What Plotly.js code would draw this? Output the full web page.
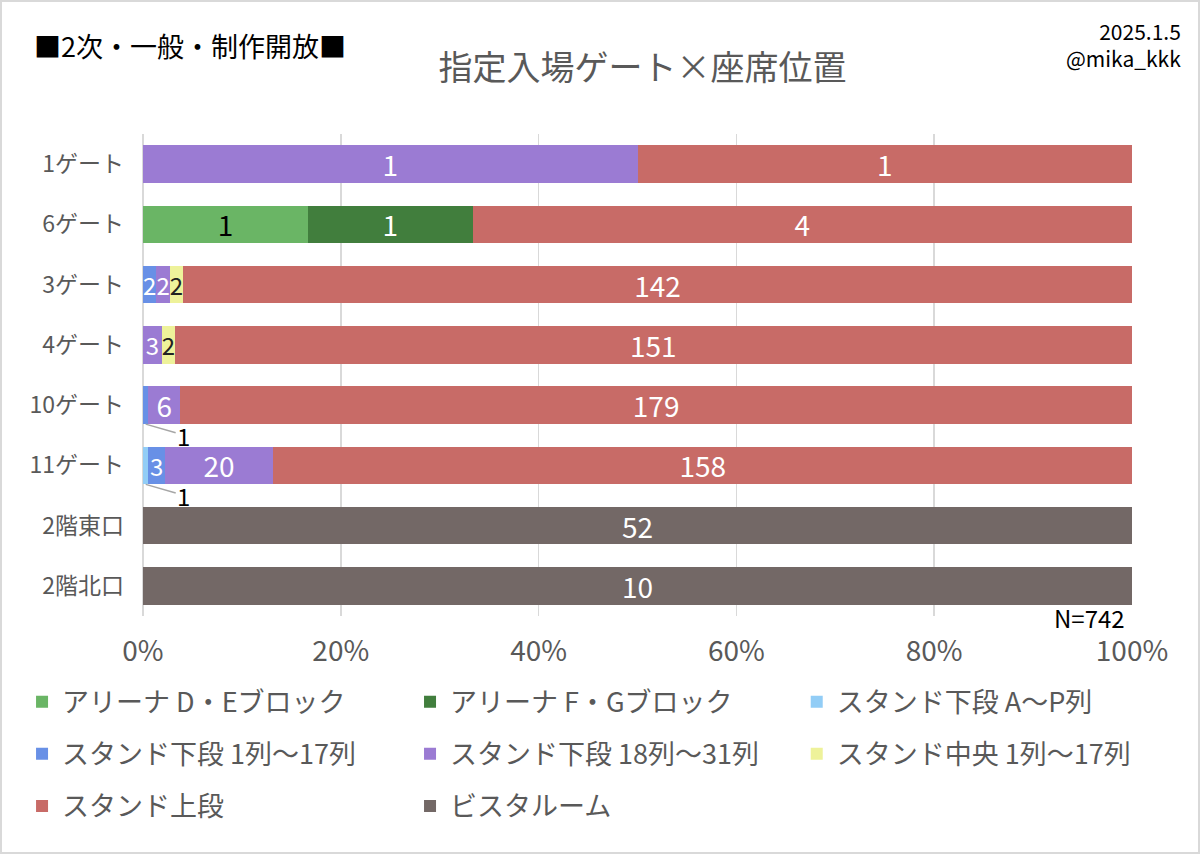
<!DOCTYPE html>
<html>
<head>
<meta charset="utf-8">
<script src="https://cdn.plot.ly/plotly-3.0.1.min.js"></script>
<style>
	body { margin: 0; background: #fff; }
	#frame { width: 1200px; height: 854px; box-sizing: border-box; border: 2px solid #d9d9d9; }
</style>
</head>
<body>
<div id="frame"><div id="chart"></div></div>
<script>
// 指定入場ゲート×座席位置 (100% stacked)

const categories = ["1ゲート", "6ゲート", "3ゲート", "4ゲート", "10ゲート", "11ゲート", "2階東口", "2階北口"];

const seriesNames = [
	"アリーナ D・Eブロック",
	"アリーナ F・Gブロック",
	"スタンド下段 A～P列",
	"スタンド下段 1列～17列",
	"スタンド下段 18列～31列",
	"スタンド中央 1列～17列",
	"スタンド上段",
	"ビスタルーム",
];

const arenaDE = [0, 1, 0, 0, 0, 0, 0, 0];
const arenaFG = [0, 1, 0, 0, 0, 0, 0, 0];
const standLowerAP = [0, 0, 0, 0, 0, 1, 0, 0];
const standLower1to17 = [0, 0, 2, 0, 1, 3, 0, 0];
const standLower18to31 = [1, 0, 2, 3, 6, 20, 0, 0];
const standCenter = [0, 0, 2, 2, 0, 0, 0, 0];
const standUpper = [1, 4, 142, 151, 179, 158, 0, 0];
const vistaRoom = [0, 0, 0, 0, 0, 0, 52, 10];

const seriesValues = [arenaDE, arenaFG, standLowerAP, standLower1to17, standLower18to31, standCenter, standUpper, vistaRoom];

const colors = ["#6ab565", "#417e3d", "#92cdf6", "#6890e6", "#9b7bd3", "#eef29a", "#c86b67", "#736866"];
const textColors = ["#000", "#fff", "#fff", "#fff", "#fff", "#222", "#fff", "#fff"];
const legendIds = ["legend", "legend2", "legend3"];

const totals = categories.map((c, j) => seriesValues.reduce((s, v) => s + v[j], 0));
const grandTotal = totals.reduce((a, b) => a + b, 0);

// tiny slices (<1%) get a leader label instead of inside text
const share = (v, j) => v / totals[j];
const isTiny = (v, j) => v > 0 && share(v, j) < 0.01;

let data = seriesValues.map((vals, i) => ({
	type: "bar",
	orientation: "h",
	name: seriesNames[i],
	y: categories,
	x: vals,
	text: vals.map((v, j) => (v > 0 && !isTiny(v, j) ? String(v) : "")),
	textposition: "inside",
	insidetextanchor: "middle",
	textangle: 0,
	constraintext: "none",
	textfont: {
		color: textColors[i],
		size: vals.map((v, j) => (share(v, j) < 0.03 ? 24 : 28)),
	},
	marker: { color: colors[i], line: { width: 0 } },
	legend: legendIds[i % 3],
	legendgroup: seriesNames[i],
	hoverinfo: "skip",
}));

let leaderNotes = [];
seriesValues.forEach((vals, i) => {
	vals.forEach((v, j) => {
		if (!isTiny(v, j)) return;
		let before = 0;
		for (let k = 0; k < i; k++) before += seriesValues[k][j];
		leaderNotes.push({
			x: ((before + v / 2) / totals[j]) * 100,
			y: categories[j],
			xref: "x",
			yref: "y",
			text: String(v),
			showarrow: true,
			arrowhead: 0,
			arrowwidth: 1.5,
			arrowcolor: "#a6a6a6",
			ax: 38,
			ay: 11,
			yshift: -19,
			font: { size: 24, color: "#000" },
		});
	});
});

const legendBase = {
	orientation: "v",
	traceorder: "grouped",
	tracegroupgap: 14,
	y: -0.128,
	yanchor: "top",
	bgcolor: "rgba(0,0,0,0)",
	font: { size: 27, color: "#595959" },
};

let layout = {
	width: 1196,
	height: 850,
	paper_bgcolor: "#fff",
	plot_bgcolor: "#fff",
	font: { family: "Noto Sans CJK JP, Noto Sans, sans-serif", color: "#595959" },
	title: {
		text: "指定入場ゲート×座席位置",
		font: { size: 34, color: "#595959" },
		x: 0.505,
		xref: "paper",
		y: 0.922,
		yanchor: "middle",
	},
	barmode: "stack",
	barnorm: "percent",
	bargap: 0.38,
	margin: { l: 141, r: 66, t: 132, b: 236, pad: 0 },
	xaxis: {
		range: [0, 100],
		dtick: 20,
		ticksuffix: "%",
		showgrid: true,
		gridcolor: "#d9d9d9",
		gridwidth: 1.5,
		zeroline: true,
		zerolinecolor: "#d9d9d9",
		zerolinewidth: 1.5,
		ticks: "",
		ticklabelstandoff: 16,
		tickfont: { size: 28, color: "#595959" },
		fixedrange: true,
	},
	yaxis: {
		autorange: "reversed",
		showgrid: false,
		ticks: "",
		ticklabelstandoff: 18,
		tickfont: { size: 23, color: "#595959" },
		fixedrange: true,
	},
	showlegend: true,
	legend: Object.assign({}, legendBase, { x: -0.1223 }),
	legend2: Object.assign({}, legendBase, { x: 0.270 }),
	legend3: Object.assign({}, legendBase, { x: 0.661 }),
	annotations: [
		{
			text: "■2次・一般・制作開放■",
			xref: "paper", yref: "paper",
			x: -0.1122, y: 1.1846,
			xanchor: "left", yanchor: "middle",
			showarrow: false,
			font: { size: 27, color: "#000" },
		},
		{
			text: "2025.1.5<br>@mika_kkk",
			xref: "paper", yref: "paper",
			x: 1.0516, y: 1.185,
			xanchor: "right", yanchor: "middle",
			align: "right",
			showarrow: false,
			font: { size: 21, color: "#000" },
		},
		{
			text: "N=" + grandTotal,
			xref: "paper", yref: "paper",
			x: 0.995, y: -0.004,
			xanchor: "right", yanchor: "middle",
			showarrow: false,
			font: { size: 24, color: "#000" },
		},
	].concat(leaderNotes),
};

Plotly.newPlot("chart", data, layout, { staticPlot: true });
</script>
</body>
</html>
